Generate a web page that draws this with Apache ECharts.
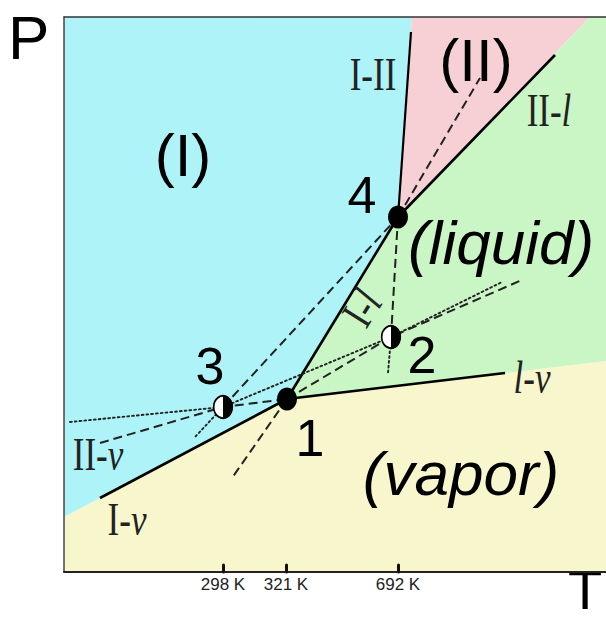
<!DOCTYPE html>
<html><head><meta charset="utf-8">
<script src="https://cdn.jsdelivr.net/npm/echarts@6/dist/echarts.min.js"></script>
<style>html,body{margin:0;padding:0;background:#fff}#c{width:606px;height:619px}</style>
</head><body><div id="c"></div>
<script>
// Schematic phase diagram, coordinates (T, P) in arbitrary schematic units
const point1 = [223, 173]; // I-l-v triple point
const point2 = [327, 235]; // II-l-v (metastable)
const point3 = [159, 165]; // I-II-v (metastable)
const point4 = [334, 355]; // I-II-l triple point

const tickValues = [159, 222, 334];
const tickLabels = ['298 K', '321 K', '692 K'];

// stable coexistence curves (solid)
const lineIv = [[36, 74], point1];
const lineLv = [point1, [441, 199]];
const lineIl = [point1, point4];
const lineIII = [point4, [347, 540]];
const lineIIl = [point4, [491, 517]];

// metastable extensions (dashed)
const dashIIv = [[36, 129], point3, point1];
const dashIlLow = [point1, [168, 94]];
const dashIlHigh = [point4, [416, 494]];
const dash34 = [point3, point4];
const dash42 = [point4, point2];
const dash12 = [point1, point2, [458, 292]];

// metastable extensions (dotted)
const dotLvLeft = [[6, 150], point3];
const dot32 = [point3, point2, [438, 290]];
const dot3Low = [point3, [131, 135]];
const dot2Low = [point2, [324, 199]];

// phase regions
const regionVapor = [[0, 0], [542, 0], [542, 211], point1, [0, 55]];
const regionI = [[0, 55], point1, point4, [348, 555], [0, 555]];
const regionII = [point4, [348, 555], [526, 555]];
const regionLiquid = [point4, [526, 555], [542, 555], [542, 211], point1];

// labels
const phaseTexts = ['(I)', '(II)'];
const phasePos = [[119, 417], [412, 512]];
const phaseItalicTexts = ['(liquid)', '(vapor)'];
const phaseItalicPos = [[437, 330], [397, 99]];
const numberTexts = ['1', '2', '3', '4'];
const numberPos = [[246, 134], [358, 217], [146, 206], [298, 377]];
const curveTexts = ['{n|I-II}', '{n|II-}{i|l}', '{n|I-}{i|l}', '{i|l}{n|-}{i|v}', '{n|II-}{i|v}', '{n|I-}{i|v}'];
const curvePos = [[309, 497], [485, 461], [298, 264], [468, 194], [34, 117], [63, 52]];

const regions = [regionVapor, regionI, regionII, regionLiquid];
const regionColors = ['#f8f6cc', '#aef3f8', '#f7d0d6', '#caf6c6'];

const chart = echarts.init(document.getElementById('c'), null, {renderer: 'svg'});

function lineSeries(data, type, width) {
  return {
    type: 'line', data: data, symbol: 'none', silent: true, z: 3, animation: false,
    lineStyle: {color: type === 'solid' ? '#000' : '#222', width: width,
      type: type === 'solid' ? 'solid' : (type === 'dashed' ? [9, 5] : [1.8, 3]),
      cap: type === 'dotted' ? 'round' : 'butt'}
  };
}

const SANS = 'Liberation Sans, Arial, sans-serif';
const SERIF = 'Liberation Serif, Times New Roman, serif';

const series = [
  {
    type: 'custom', z: 1, silent: true, animation: false,
    data: regions.map(r => r[0]),
    renderItem: (params, api) => ({
      type: 'polygon',
      shape: {points: regions[params.dataIndex].map(p => api.coord(p))},
      style: {fill: regionColors[params.dataIndex], stroke: null}
    })
  },
  lineSeries(lineIv, 'solid', 2.6),
  lineSeries(lineLv, 'solid', 2.6),
  lineSeries(lineIl, 'solid', 2.6),
  lineSeries(lineIII, 'solid', 2.2),
  lineSeries(lineIIl, 'solid', 2.6),
  lineSeries(dashIIv, 'dashed', 2),
  lineSeries(dashIlLow, 'dashed', 2),
  lineSeries(dashIlHigh, 'dashed', 2),
  lineSeries(dash34, 'dashed', 2),
  lineSeries(dash42, 'dashed', 2),
  lineSeries(dash12, 'dashed', 2),
  lineSeries(dotLvLeft, 'dotted', 1.9),
  lineSeries(dot32, 'dotted', 1.9),
  lineSeries(dot3Low, 'dotted', 1.9),
  lineSeries(dot2Low, 'dotted', 1.9),
  {
    type: 'custom', z: 5, silent: true, animation: false,
    data: [point1, point4],
    renderItem: (params, api) => {
      const p = api.coord([api.value(0), api.value(1)]);
      return {type: 'circle', x: p[0], y: p[1], scaleY: 1.15, shape: {cx: 0, cy: 0, r: 10}, style: {fill: '#000'}};
    }
  },
  {
    type: 'custom', z: 5, silent: true, animation: false,
    data: [point3, point2],
    renderItem: (params, api) => {
      const p = api.coord([api.value(0), api.value(1)]);
      return {type: 'group', x: p[0], y: p[1], scaleY: 1.2, children: [
        {type: 'circle', shape: {cx: 0, cy: 0, r: 9.3}, style: {fill: '#fff', stroke: '#000', lineWidth: 1.6}},
        {type: 'sector', shape: {cx: 0, cy: 0, r0: 0, r: 9.6, startAngle: -Math.PI / 2, endAngle: Math.PI / 2, clockwise: true}, style: {fill: '#000'}}
      ]};
    }
  },
  {
    type: 'custom', z: 6, silent: true, animation: false,
    data: phasePos,
    renderItem: (params, api) => {
      const p = api.coord([api.value(0), api.value(1)]);
      return {type: 'text', x: p[0], y: p[1], style: {text: phaseTexts[params.dataIndex], fontSize: 60, fontFamily: SANS, fill: '#000', align: 'center', verticalAlign: 'middle'}};
    }
  },
  {
    type: 'custom', z: 6, silent: true, animation: false,
    data: phaseItalicPos,
    renderItem: (params, api) => {
      const p = api.coord([api.value(0), api.value(1)]);
      return {type: 'text', x: p[0], y: p[1], style: {text: phaseItalicTexts[params.dataIndex], fontSize: 62, fontStyle: 'italic', fontFamily: SANS, fill: '#000', align: 'center', verticalAlign: 'middle'}};
    }
  },
  {
    type: 'custom', z: 6, silent: true, animation: false,
    data: numberPos,
    renderItem: (params, api) => {
      const p = api.coord([api.value(0), api.value(1)]);
      return {type: 'text', x: p[0], y: p[1], style: {text: numberTexts[params.dataIndex], fontSize: 52, fontFamily: SANS, fill: '#000', align: 'center', verticalAlign: 'middle'}};
    }
  },
  {
    type: 'custom', z: 6, silent: true, animation: false,
    data: curvePos,
    renderItem: (params, api) => {
      const p = api.coord([api.value(0), api.value(1)]);
      const i = params.dataIndex;
      return {type: 'text', x: p[0], y: p[1], scaleY: 1.3, rotation: i === 2 ? 58 * Math.PI / 180 : 0,
        style: {text: curveTexts[i], fontSize: 35, fontFamily: SERIF, fill: '#222', align: 'center', verticalAlign: 'middle',
          rich: {n: {fontSize: 35, fontFamily: SERIF, fill: '#222'}, i: {fontSize: 35, fontFamily: SERIF, fontStyle: 'italic', fill: '#222'}}}};
    }
  }
];

chart.setOption({
  animation: false,
  backgroundColor: '#fff',
  title: [
    {text: 'P', left: 8, top: 6, padding: 0, textStyle: {fontSize: 62, fontWeight: 'normal', fontFamily: SANS, color: '#000'}},
    {text: 'T', left: 568, top: 561, padding: 0, textStyle: {fontSize: 56, fontWeight: 'normal', fontFamily: SANS, color: '#000'}}
  ],
  grid: {left: 64, top: 17, right: 0, bottom: 47},
  xAxis: [
    {type: 'value', min: 0, max: 542, position: 'bottom', z: 10,
      axisLine: {show: true, onZero: false, lineStyle: {color: '#222', width: 2}},
      axisTick: {show: true, inside: true, length: 7, customValues: tickValues, lineStyle: {color: '#111', width: 3, cap: 'round'}},
      axisLabel: {show: true, customValues: tickValues, formatter: v => tickLabels[tickValues.indexOf(v)] || '', fontSize: 17, fontFamily: SANS, color: '#222', margin: 4},
      splitLine: {show: false}},
    {type: 'value', min: 0, max: 542, position: 'top', z: 10,
      axisLine: {show: true, onZero: false, lineStyle: {color: '#333', width: 1.5}},
      axisTick: {show: false}, axisLabel: {show: false}, splitLine: {show: false}}
  ],
  yAxis: {type: 'value', min: 0, max: 555, z: 10,
    axisLine: {show: true, onZero: false, lineStyle: {color: '#444', width: 1.5}},
    axisTick: {show: false}, axisLabel: {show: false}, splitLine: {show: false}},
  series: series
});
</script></body></html>
